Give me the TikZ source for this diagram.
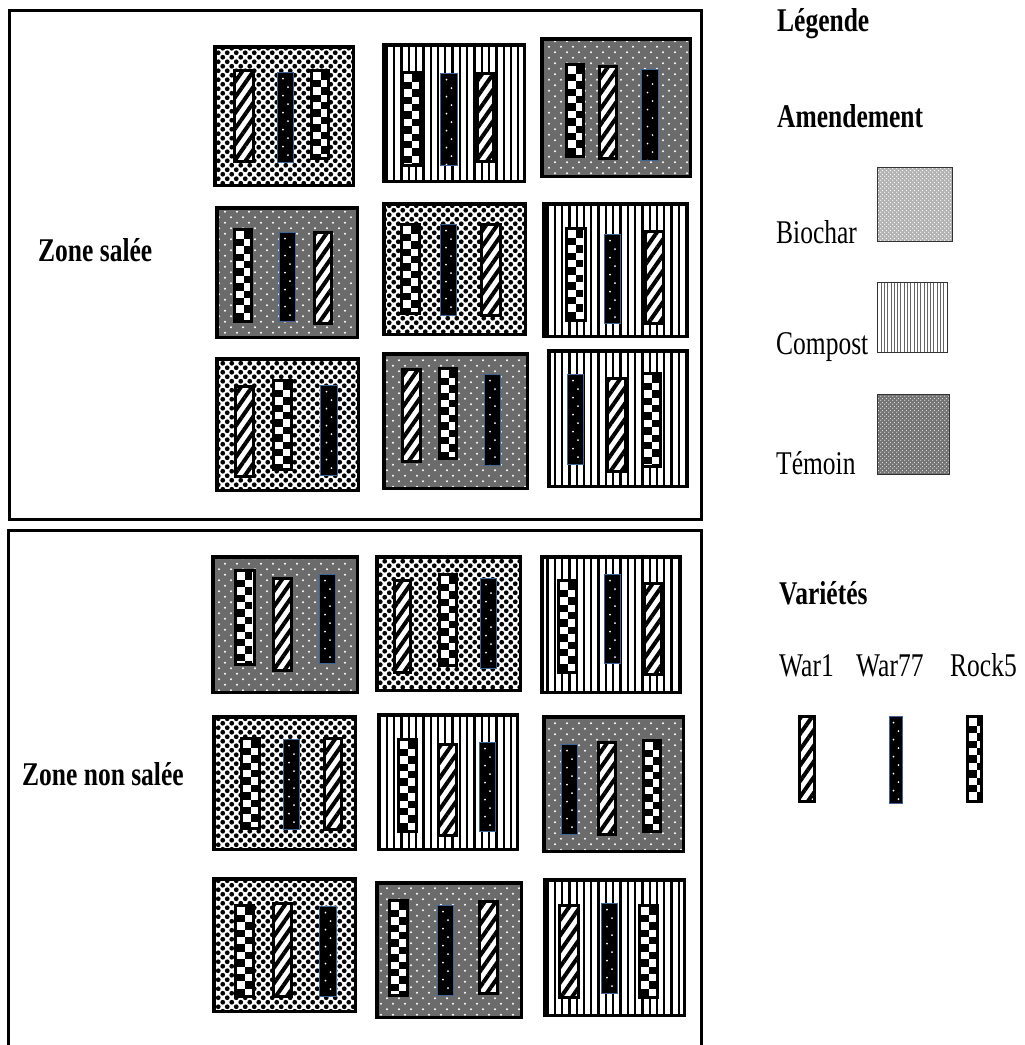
\documentclass[tikz,border=0pt]{standalone}
\usepackage{fontspec}
\setmainfont{Liberation Serif}
\usetikzlibrary{patterns,patterns.meta}
\definecolor{wblue}{RGB}{60,100,150}
\pgfdeclarepatternformonly{biodots}{\pgfqpoint{-1pt}{-1pt}}{\pgfqpoint{10pt}{10pt}}{\pgfqpoint{9pt}{9pt}}{%
 \pgfpathcircle{\pgfqpoint{2.25pt}{2.25pt}}{2.4pt}%
 \pgfpathcircle{\pgfqpoint{6.75pt}{6.75pt}}{2.4pt}%
 \pgfusepath{fill}}
\pgfdeclarepatternformonly{temdots}{\pgfqpoint{-1pt}{-1pt}}{\pgfqpoint{13pt}{12pt}}{\pgfqpoint{12pt}{11pt}}{%
 \pgfpathcircle{\pgfqpoint{3pt}{2.75pt}}{1.1pt}%
 \pgfpathcircle{\pgfqpoint{9pt}{8.25pt}}{1.1pt}%
 \pgfusepath{fill}}
\pgfdeclarepatternformonly{finedots}{\pgfqpoint{0pt}{0pt}}{\pgfqpoint{4pt}{4pt}}{\pgfqpoint{4pt}{4pt}}{%
 \pgfpathcircle{\pgfqpoint{1pt}{1pt}}{0.8pt}%
 \pgfpathcircle{\pgfqpoint{3pt}{3pt}}{0.8pt}%
 \pgfusepath{fill}}
\tikzset{
 plotframe/.style={line width=3.5pt, draw=black},
 biochar/.style={plotframe, preaction={fill=white}, pattern=biodots, pattern color=black},
 compost/.style={plotframe, preaction={fill=white}, pattern={Lines[angle=90,distance=7.3pt,line width=2.3pt]}, pattern color=black},
 temoin/.style={plotframe, preaction={fill=black!58}, pattern=temdots, pattern color=white},
 war1/.style={line width=3.6pt, draw=black, preaction={fill=white}, pattern={Lines[angle=55,distance=9pt,line width=4pt]}, pattern color=black},
 war77/.style={line width=1.6pt, draw=wblue, fill=black, path picture={
   \foreach \k in {0,...,11}{
     \pgfmathsetmacro\dx{ifthenelse(mod(\k,2)==0,-2.5,2.5)}
     \fill[white] ([xshift=\dx pt, yshift={-6pt-\k*8.5pt}]path picture bounding box.north) circle[radius=0.9pt];
   }}},
 rock5/.style={line width=3.6pt, draw=black, fill=white, path picture={
   \foreach \i in {0,...,14}{\foreach \j in {0,1}{
     \ifodd\numexpr\i+\j\relax
       \fill[black] ([xshift={1.8pt+\j*7.4pt},yshift={-1.8pt-\i*7.4pt}]path picture bounding box.north west) rectangle ++(7.4pt,-7.4pt);
     \fi}}}},
 zone/.style={line width=3.5pt, draw=black},
 lab/.style={anchor=base west, inner sep=0pt, font=\fontsize{25.5}{30}\selectfont},
 blab/.style={lab, font=\fontsize{25.5}{30}\selectfont\bfseries},
 legbox/.style={line width=1.3pt, draw=black!80},
}
\newcommand\plotbox[5]{\path[#1] ([xshift=1.75pt,yshift=-1.75pt]#2,#3) rectangle ([xshift=-1.75pt,yshift=1.75pt]#4,#5);}
\newcommand\stripbox[5]{\path[#1] ([xshift=1.6pt,yshift=-1.6pt]#2,#3) rectangle ([xshift=-1.6pt,yshift=1.6pt]#4,#5);}
\newcommand\tall[1]{\scalebox{1}[1.3]{#1}}
\begin{document}
\begin{tikzpicture}[x=1pt,y=-1pt]
\useasboundingbox (0,0) rectangle (1025,1045);
\clip (0,0) rectangle (1025,1045);
% zones
\draw[zone] (9.5,10.5) rectangle (701.5,519.5);
\draw[zone] (8.5,530.5) rectangle (701.5,1060);
\node[blab] (zs) at (38,261) {\tall{Zone salée}};
\node[blab] (zns) at (22,785) {\tall{Zone non salée}};
% ---- top zone
\plotbox{biochar}{213}{45}{355}{187}
\stripbox{war1}{233}{69}{255}{163}
\stripbox{war77}{276}{71}{295}{164}
\stripbox{rock5}{310}{69}{330}{160}
\plotbox{compost}{382}{43}{526}{183}
\stripbox{rock5}{401}{71}{422}{167}
\stripbox{war77}{439}{72}{459}{167}
\stripbox{war1}{476}{72}{495}{163}
\plotbox{temoin}{540}{37}{692}{178}
\stripbox{rock5}{565}{63}{585}{158}
\stripbox{war1}{598}{65}{618}{160}
\stripbox{war77}{640}{68}{660}{162}
\plotbox{temoin}{215}{206}{359}{339}
\stripbox{rock5}{233}{228}{253}{323}
\stripbox{war77}{278}{231}{297}{323}
\stripbox{war1}{313}{231}{333}{325}
\plotbox{biochar}{382}{202}{527}{336}
\stripbox{rock5}{400}{223}{421}{315}
\stripbox{war77}{439}{223}{458}{317}
\stripbox{war1}{480}{223}{502}{317}
\plotbox{compost}{542}{202}{689}{338}
\stripbox{rock5}{565}{227}{587}{322}
\stripbox{war77}{603}{233}{622}{325}
\stripbox{war1}{644}{230}{665}{325}
\plotbox{biochar}{215}{357}{360}{492}
\stripbox{war1}{234}{385}{255}{478}
\stripbox{rock5}{272}{379}{293}{471}
\stripbox{war77}{319}{384}{339}{477}
\plotbox{temoin}{382}{352}{529}{490}
\stripbox{war1}{401}{368}{422}{463}
\stripbox{rock5}{438}{367}{458}{460}
\stripbox{war77}{483}{373}{502}{467}
\plotbox{compost}{547}{349}{689}{488}
\stripbox{war77}{566}{373}{585}{466}
\stripbox{war1}{606}{377}{627}{473}
\stripbox{rock5}{641}{372}{662}{468}
% ---- bottom zone
\plotbox{temoin}{211}{555}{359}{694}
\stripbox{rock5}{234}{569}{256}{666}
\stripbox{war1}{272}{577}{293}{672}
\stripbox{war77}{318}{573}{337}{665}
\plotbox{biochar}{375}{555}{522}{692}
\stripbox{war1}{393}{579}{412}{674}
\stripbox{rock5}{438}{573}{458}{667}
\stripbox{war77}{479}{577}{498}{670}
\plotbox{compost}{540}{555}{682}{694}
\stripbox{rock5}{557}{579}{578}{674}
\stripbox{war77}{603}{573}{622}{665}
\stripbox{war1}{643}{582}{663}{676}
\plotbox{biochar}{212}{715}{357}{851}
\stripbox{rock5}{240}{737}{261}{830}
\stripbox{war77}{282}{738}{301}{831}
\stripbox{war1}{323}{737}{343}{831}
\plotbox{compost}{377}{713}{519}{851}
\stripbox{rock5}{397}{738}{418}{833}
\stripbox{war1}{437}{743}{458}{837}
\stripbox{war77}{478}{741}{497}{833}
\plotbox{temoin}{542}{715}{685}{853}
\stripbox{war77}{560}{743}{579}{836}
\stripbox{war1}{597}{741}{617}{836}
\stripbox{rock5}{642}{739}{662}{833}
\plotbox{biochar}{212}{877}{357}{1013}
\stripbox{rock5}{234}{904}{255}{998}
\stripbox{war1}{272}{902}{293}{998}
\stripbox{war77}{318}{905}{338}{998}
\plotbox{temoin}{375}{881}{523}{1019}
\stripbox{rock5}{388}{899}{409}{997}
\stripbox{war77}{436}{904}{455}{997}
\stripbox{war1}{478}{900}{499}{995}
\plotbox{compost}{543}{878}{686}{1017}
\stripbox{war1}{558}{904}{580}{999}
\stripbox{war77}{600}{902}{619}{995}
\stripbox{rock5}{638}{904}{659}{999}
% ---- legend
\node[blab] (leg) at (777,31) {\tall{Légende}};
\node[blab] (amd) at (777,127) {\tall{Amendement}};
\node[lab] (tb) at (776,243) {\tall{Biochar}};
\node[lab] (tc) at (776,354) {\tall{Compost}};
\node[lab] (tt) at (776,474) {\tall{Témoin}};
\path[legbox, preaction={fill=black!30}, pattern=finedots, pattern color=white] (877.5,167.5) rectangle (952.5,241.5);
\path[legbox, preaction={fill=white}, pattern={Lines[angle=90,distance=3.3pt,line width=1pt]}, pattern color=black!60] (877.5,282.5) rectangle (947.5,352.5);
\path[legbox, preaction={fill=black!55}, pattern=finedots, pattern color=white!85!black] (877.5,394.5) rectangle (949.5,474.5);
\node[blab] (var) at (779,604) {\tall{Variétés}};
\node[lab] (v1) at (779,676) {\tall{War1}};
\node[lab] (v2) at (856,676) {\tall{War77}};
\node[lab] (v3) at (950,676) {\tall{Rock5}};
\stripbox{war1}{798}{715}{816}{803}
\stripbox{war77}{888}{715}{904}{805}
\stripbox{rock5}{966}{715}{983}{803}
\end{tikzpicture}
\end{document}
